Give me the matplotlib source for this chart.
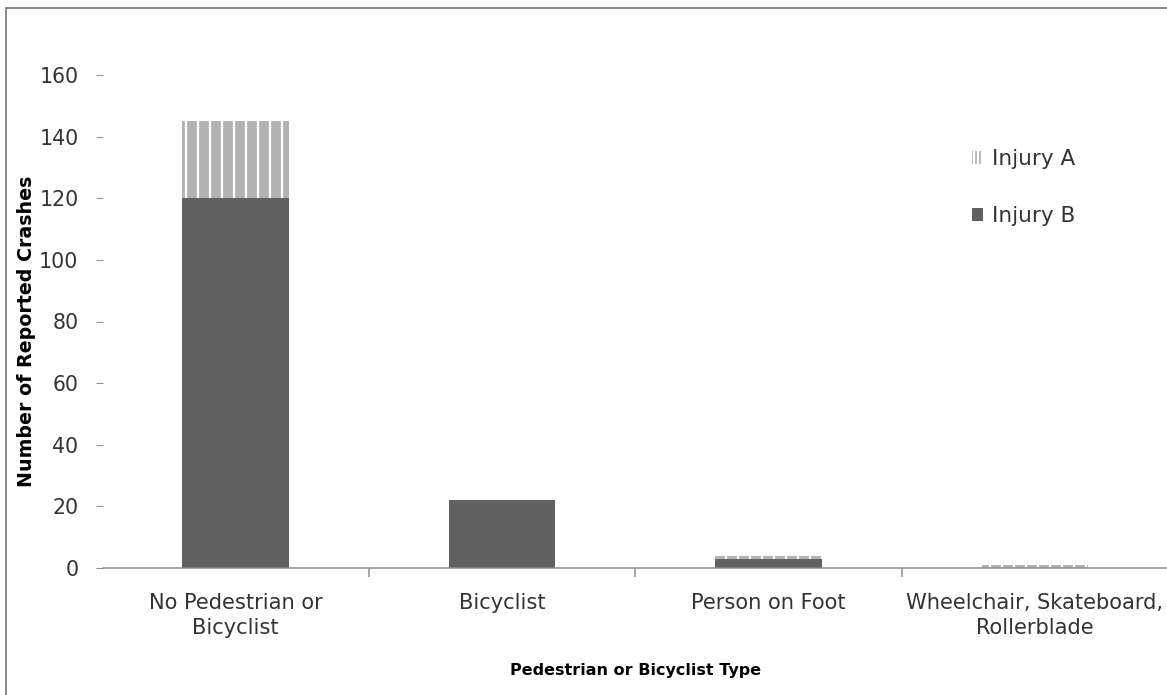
import matplotlib
matplotlib.use("Agg")
import matplotlib.pyplot as plt
import numpy as np
from matplotlib.patches import Patch, Rectangle


# data
categories = ["No Pedestrian or\nBicyclist", "Bicyclist", "Person on Foot",
              "Wheelchair, Skateboard,\nRollerblade"]
injury_b = [120, 22, 3, 0]
injury_a = [25, 0, 1, 1]
y_ticks = [0, 20, 40, 60, 80, 100, 120, 140, 160]

dark = "#616161"
light = "#b3b3b3"
axis_grey = "#8c8c8c"
text_col = "#333333"

plt.rcParams["font.family"] = ["DejaVu Sans"]
plt.rcParams["hatch.linewidth"] = 2.2

W, H = 1167, 695
fig = plt.figure(figsize=(W / 72, H / 72), dpi=72)
fig.patch.set_facecolor("white")

# chart area border
fig.add_artist(Rectangle((6 / W, -0.1), 1.2, 1 - 8 / H + 0.1, transform=fig.transFigure,
                         fill=False, edgecolor=axis_grey, linewidth=2))

left, right, top, bottom = 102.5, 1168, 75, 568
ax = fig.add_axes([left / W, 1 - bottom / H, (right - left) / W, (bottom - top) / H])
aw, ah = right - left, bottom - top

x = np.arange(len(categories))
ax.bar(x, injury_b, 0.4, color=dark, linewidth=0)
ax.bar(x, injury_a, 0.4, bottom=injury_b, color=light, hatch="|",
       edgecolor="white", linewidth=0)

ax.set_xlim(-0.5, 3.5)
ax.set_ylim(0, 160)

for s in ["top", "right", "left"]:
    ax.spines[s].set_visible(False)
ax.spines["bottom"].set_color(axis_grey)
ax.spines["bottom"].set_linewidth(1.5)

ax.set_yticks(y_ticks)
ax.tick_params(axis="y", length=7, width=1, color=axis_grey, pad=17,
               labelsize=20.5, labelcolor=text_col)
ax.set_xticks(x)
ax.set_xticklabels(categories, linespacing=1.3)
ax.tick_params(axis="x", which="major", length=0, pad=25, labelsize=21,
               labelcolor=text_col)
ax.set_xticks([0.5, 1.5, 2.5, 3.5], minor=True)
ax.tick_params(axis="x", which="minor", length=9, width=1.5, color=axis_grey)

ax.set_ylabel("Number of Reported Crashes", fontsize=19, fontweight="bold")
ax.yaxis.set_label_coords(-66.5 / aw, 0.48)
ax.set_xlabel("Pedestrian or Bicyclist Type", fontsize=16, fontweight="bold")
ax.xaxis.set_label_coords(0.5, -(663 - bottom) / ah)

handles = [Patch(facecolor=light, hatch="|||", edgecolor="white", linewidth=0),
           Patch(facecolor=dark, linewidth=0)]
ax.legend(handles, ["Injury A", "Injury B"], loc="upper left",
          bbox_to_anchor=(972 / W, 1 - 149 / H), bbox_transform=fig.transFigure,
          frameon=False, fontsize=21.5, borderaxespad=0, borderpad=0,
          handlelength=0.51, handleheight=0.51, handletextpad=0.42,
          labelspacing=1.73, labelcolor=text_col)

fig.savefig("out.png", dpi=72)
